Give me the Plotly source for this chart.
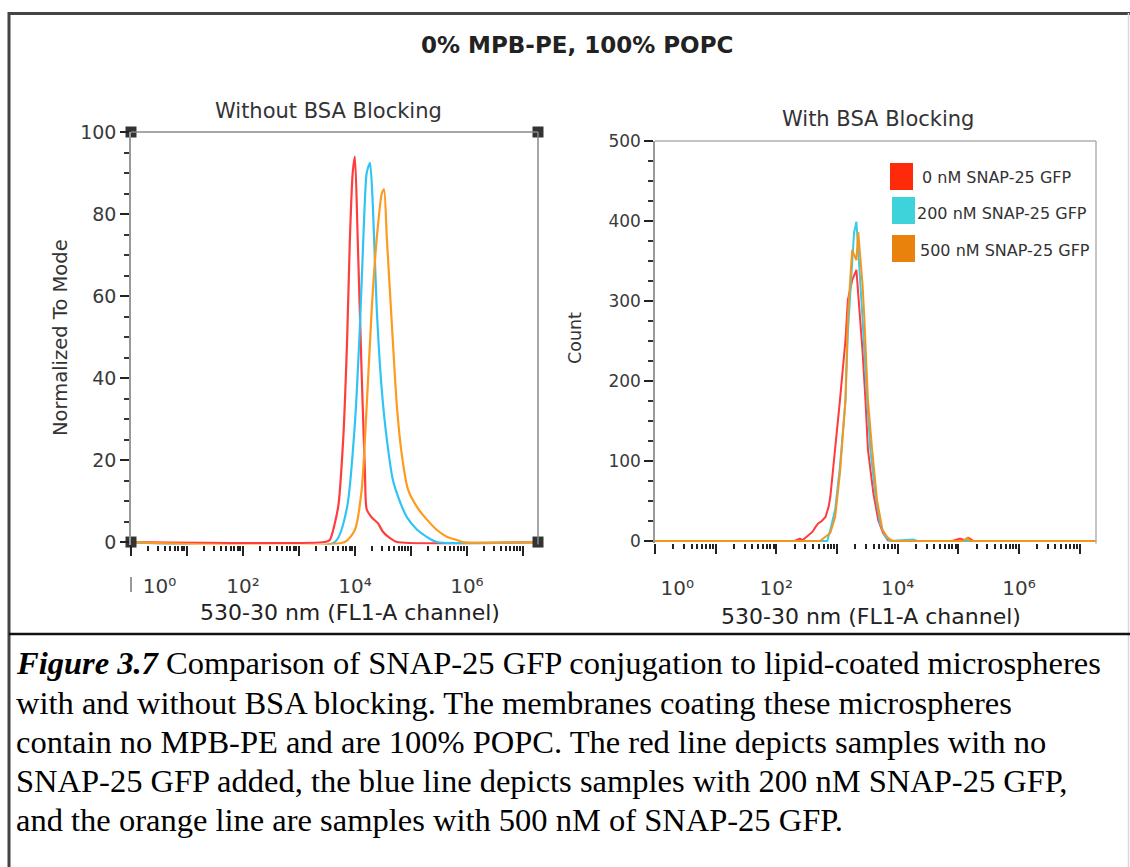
import plotly.graph_objects as go

W, H = 1130, 867

# ---------------- DATA ----------------
SERIES_NAMES = ["0 nM SNAP-25 GFP", "200 nM SNAP-25 GFP", "500 nM SNAP-25 GFP"]

# Left panel: Without BSA Blocking (Normalized To Mode)
left_red_x = [1, 2880, 3550, 5010, 6170, 7240, 8130, 9120, 10000, 11200, 13200, 15100, 16200,
              20000, 25700, 31600, 41700, 56200, 18600000]
left_red_y = [0, 0, 0.5, 8.5, 25, 49, 74, 90, 94, 74, 41, 17, 8, 6, 4.6, 2.5, 1, 0, 0]

left_blue_x = [1, 4370, 7240, 10000, 12300, 14500, 16200, 18600, 20900, 24500, 30200, 37200,
               47900, 63100, 85100, 129000, 195000, 288000, 18600000]
left_blue_y = [0, 0, 8.5, 29, 53, 78, 90, 92.5, 82, 57, 37, 25, 15, 10, 6, 3, 1.2, 0, 0]

left_orange_x = [1, 6610, 10000, 13200, 16200, 20000, 24500, 30200, 33100, 37200, 45700, 56200,
                 69200, 89100, 129000, 195000, 288000, 437000, 661000, 851000, 18600000]
left_orange_y = [0, 0, 3, 12.7, 33, 57, 74, 85, 86, 74, 53, 33, 21, 12.7, 8.5, 5.4, 3, 1.3,
                 0.5, 0, 0]

# Right panel: With BSA Blocking (Count)
right_red_x = [1, 200, 245, 269, 302, 355, 389, 447, 490, 562, 646, 724, 776, 871, 1000, 1120,
               1230, 1380, 1510, 1780, 2090, 2400, 2630, 2950, 3240, 3980, 4790, 5750, 6920,
               8900, 79400, 107000, 126000, 148000, 178000, 18600000]
right_red_y = [0, 0, 3, 1, 4, 8, 11, 18, 22, 25, 30, 42, 55, 93, 135, 176, 210, 251, 301, 326,
               339, 280, 239, 176, 114, 60, 26, 10, 1, 0, 0, 3, 1, 4, 0, 0]

right_cyan_x = [1, 631, 692, 776, 933, 1120, 1380, 1510, 1780, 1910, 2090, 2240, 2630, 3020,
                3550, 4270, 5130, 6310, 7590, 18000, 21000, 18600000]
right_cyan_y = [0, 0, 0, 14, 39, 93, 176, 260, 343, 385, 399, 364, 280, 198, 114, 60, 22, 5,
                0, 2, 0, 0]

right_orange_x = [1, 525, 776, 933, 1120, 1380, 1510, 1780, 1860, 2090, 2240, 2630, 2820, 2950,
                  3240, 3800, 4570, 5620, 6760, 8130, 120000, 141000, 158000, 18600000]
right_orange_y = [0, 0, 10, 30, 85, 176, 280, 364, 360, 351, 386, 322, 280, 251, 176, 114, 51,
                  14, 5, 0, 0, 4, 0, 0]

# Axis ticks
LABELED_DECADES = [1, 100, 10000, 1000000]
UNLABELED_DECADES = [10, 1000, 100000, 10000000]
X_TICKTEXT_L = ["\u00a0" * 9 + "10\u2070", "10\u00b2", "10\u2074", "10\u2076"]
X_TICKTEXT_R = ["\u00a0" * 7 + "10\u2070", "10\u00b2", "10\u2074", "10\u2076"]
MINOR_MULTS = [2, 3, 4, 5, 6, 7, 8, 9]
LEFT_YTICKS = [0, 20, 40, 60, 80, 100]
RIGHT_YTICKS = [0, 100, 200, 300, 400, 500]

LOG_RANGE = [0, 7.27]
LEFT_YRANGE = [-0.6, 100]
RIGHT_YRANGE = [-3, 500]

LINE_COLORS = ["#ff3d3d", "#30c4f5", "#ff9a1f"]
RIGHT_LINE_COLORS = ["#ff3b3b", "#38cce6", "#f4961e"]
LEGEND_COLORS = ["#ff2a0a", "#3ed3db", "#e8820c"]

CAPTION = [
    "<b><i>Figure 3.7</i></b> Comparison of SNAP-25 GFP conjugation to lipid-coated microspheres",
    "with and without BSA blocking. The membranes coating these microspheres",
    "contain no MPB-PE and are 100% POPC. The red line depicts samples with no",
    "SNAP-25 GFP added, the blue line depicts samples with 200 nM SNAP-25 GFP,",
    "and the orange line are samples with 500 nM of SNAP-25 GFP.",
]

# ---------------- FIGURE ----------------
FONT = "DejaVu Sans"
all_decades = sorted(LABELED_DECADES + UNLABELED_DECADES)
minor_vals = [m * d for d in all_decades[:-1] for m in MINOR_MULTS]

fig = go.Figure()

left = [(left_red_x, left_red_y), (left_blue_x, left_blue_y), (left_orange_x, left_orange_y)]
for (xs, ys), c, n in zip(left, LINE_COLORS, SERIES_NAMES):
    fig.add_trace(go.Scatter(x=xs, y=ys, mode="lines", name=n, showlegend=False,
                             line=dict(color=c, width=2.2, shape="spline", smoothing=0.6),
                             xaxis="x", yaxis="y"))

right = [(right_red_x, right_red_y), (right_cyan_x, right_cyan_y),
         (right_orange_x, right_orange_y)]
for (xs, ys), c, n in zip(right, RIGHT_LINE_COLORS, SERIES_NAMES):
    fig.add_trace(go.Scatter(x=xs, y=ys, mode="lines", name=n, showlegend=False,
                             line=dict(color=c, width=2), xaxis="x2", yaxis="y2"))

# FlowJo-style corner handles on the left plot (drawn on the overlay axis)
x_lo, x_hi = 10 ** LOG_RANGE[0], 10 ** LOG_RANGE[1]
fig.add_trace(go.Scatter(x=[x_lo, x_hi, x_lo, x_hi], y=[0, 0, LEFT_YTICKS[-1], LEFT_YTICKS[-1]],
                         mode="markers", cliponaxis=False, showlegend=False, hoverinfo="skip",
                         marker=dict(symbol="square", size=11, color="#333333"),
                         xaxis="x3", yaxis="y"))
fig.add_trace(go.Scatter(x=[x_lo], y=[0], mode="markers", showlegend=False, hoverinfo="skip",
                         marker=dict(size=1, opacity=0), xaxis="x4", yaxis="y2"))

LD = [131 / W, 538 / W]
RD = [655 / W, 1096 / W]
LY = [1 - 544.5 / H, 1 - 132 / H]
RY = [1 - 543.4 / H, 1 - 141 / H]


def xaxis_cfg(domain, anchor, ticktext, standoff):
    return dict(type="log", range=LOG_RANGE, domain=domain, anchor=anchor, automargin=False,
                showgrid=False, zeroline=False, showline=False,
                tickmode="array", tickvals=LABELED_DECADES, ticktext=ticktext,
                ticks="outside", ticklen=10, tickwidth=2.2, tickcolor="#222",
                ticklabelstandoff=standoff, tickfont=dict(family=FONT, size=20, color="#3a3a3a"),
                minor=dict(tickmode="array", tickvals=minor_vals, ticks="outside",
                           ticklen=5, tickwidth=1.5, tickcolor="#222"))


def overlay_cfg(over, anchor):
    return dict(type="log", range=LOG_RANGE, overlaying=over, anchor=anchor, automargin=False,
                showgrid=False, zeroline=False, showline=False, showticklabels=False,
                tickmode="array", tickvals=UNLABELED_DECADES,
                ticks="outside", ticklen=10, tickwidth=2.2, tickcolor="#222")


def yaxis_cfg(domain, anchor, rng, tickvals, minor_dtick, fsize):
    return dict(range=rng, domain=domain, anchor=anchor, automargin=False,
                showgrid=False, zeroline=False,
                showline=True, linecolor="#9a9a9a", linewidth=1.5,
                tickmode="array", tickvals=tickvals,
                ticks="outside", ticklen=9, tickwidth=2.2, tickcolor="#222",
                tickfont=dict(family=FONT, size=fsize, color="#3a3a3a"),
                minor=dict(dtick=minor_dtick, ticks="outside", ticklen=5, tickwidth=1.5,
                           tickcolor="#333"))


fig.update_layout(
    width=W, height=H, margin=dict(l=0, r=0, t=0, b=0, pad=0, autoexpand=False),
    paper_bgcolor="white", plot_bgcolor="white", showlegend=False,
    xaxis=xaxis_cfg(LD, "y", X_TICKTEXT_L, 13),
    yaxis=yaxis_cfg(LY, "x", LEFT_YRANGE, LEFT_YTICKS, 5, 19),
    xaxis2=xaxis_cfg(RD, "y2", X_TICKTEXT_R, 17),
    yaxis2=yaxis_cfg(RY, "x2", RIGHT_YRANGE, RIGHT_YTICKS, 25, 17),
    xaxis3=overlay_cfg("x", "y"),
    xaxis4=overlay_cfg("x2", "y2"),
)

shapes = []
# outer frame and caption divider
shapes.append(dict(type="line", xref="paper", yref="paper", x0=9 / W, x1=9 / W, y0=1 - 12 / H, y1=0,
                   line=dict(color="#444", width=3)))
shapes.append(dict(type="line", xref="paper", yref="paper", x0=8 / W, x1=1, y0=1 - 13.5 / H,
                   y1=1 - 13.5 / H, line=dict(color="#444", width=3)))
shapes.append(dict(type="line", xref="paper", yref="paper", x0=1128.5 / W, x1=1128.5 / W,
                   y0=1 - 13 / H, y1=0, line=dict(color="#d8d8d8", width=1.5)))
shapes.append(dict(type="line", xref="paper", yref="paper", x0=9 / W, x1=1, y0=1 - 634 / H,
                   y1=1 - 634 / H, line=dict(color="#111", width=2.5)))
# small FlowJo separator mark beside the first left tick label
shapes.append(dict(type="line", xref="paper", yref="paper", x0=131 / W, x1=131 / W,
                   y0=1 - 577 / H, y1=1 - 592 / H, line=dict(color="#777", width=1.5)))
# plot frames (top and right)
for xr, yr, col in [("x domain", "y domain", "#8a8a8a"), ("x2 domain", "y2 domain", "#b0b0b0")]:
    shapes.append(dict(type="line", xref=xr, yref=yr, x0=0, x1=1, y0=1, y1=1,
                       line=dict(color=col, width=1.5)))
    shapes.append(dict(type="line", xref=xr, yref=yr, x0=1, x1=1, y0=0, y1=1,
                       line=dict(color=col, width=1.5)))

# legend swatches
sw_tops = [163, 197, 235]
sw_lefts = [890, 892, 892]
for top, lft, col in zip(sw_tops, sw_lefts, LEGEND_COLORS):
    shapes.append(dict(type="rect", xref="paper", yref="paper", x0=lft / W, x1=(lft + 23) / W,
                       y0=1 - (top + 27) / H, y1=1 - top / H, fillcolor=col,
                       line=dict(width=0)))

ann = []
ann.append(dict(text="<b>0% MPB-PE, 100% POPC</b>", x=577 / W, y=1 - 45 / H,
                font=dict(family=FONT, size=23, color="#222")))
ann.append(dict(text="Without BSA Blocking", x=328 / W, y=1 - 111 / H,
                font=dict(family=FONT, size=21, color="#333")))
ann.append(dict(text="With BSA Blocking", x=878 / W, y=1 - 119 / H,
                font=dict(family=FONT, size=21, color="#333")))
ann.append(dict(text="Normalized To Mode", x=60 / W, y=1 - 338 / H, textangle=-90,
                font=dict(family=FONT, size=19.5, color="#333")))
ann.append(dict(text="Count", x=575 / W, y=1 - 338 / H, textangle=-90,
                font=dict(family=FONT, size=17.5, color="#333")))
ann.append(dict(text="530-30 nm (FL1-A channel)", x=350 / W, y=1 - 612 / H,
                font=dict(family=FONT, size=22, color="#222")))
ann.append(dict(text="530-30 nm (FL1-A channel)", x=871 / W, y=1 - 616 / H,
                font=dict(family=FONT, size=22, color="#222")))
leg_y = [178, 213, 250]
leg_x = [920, 915, 918]
for name, yy, xx in zip(SERIES_NAMES, leg_y, leg_x):
    ann.append(dict(text=name, x=xx / W, y=1 - yy / H, xanchor="left",
                    font=dict(family=FONT, size=16, color="#333")))
cap_y = [663, 703, 742, 781, 820]
for line, yy in zip(CAPTION, cap_y):
    ann.append(dict(text=line, x=14 / W, y=1 - yy / H, xanchor="left",
                    font=dict(family="Liberation Serif", size=32.5, color="#000")))

for a in ann:
    a.setdefault("xanchor", "center")
    a.update(xref="paper", yref="paper", yanchor="middle", showarrow=False)

fig.update_layout(shapes=shapes, annotations=ann)
fig.write_html("out.html")
